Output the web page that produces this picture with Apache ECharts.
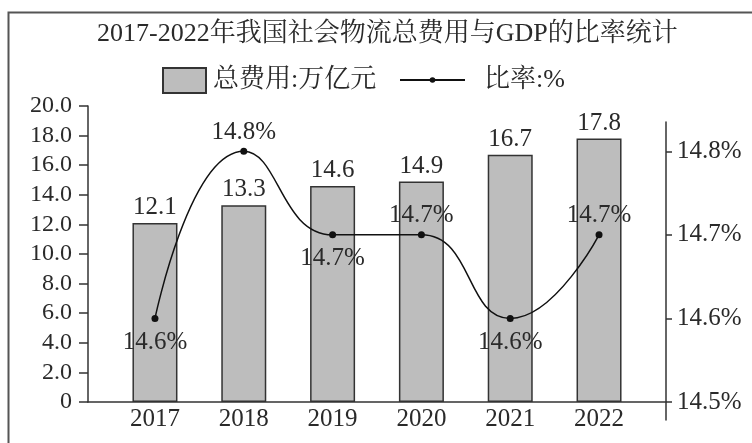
<!DOCTYPE html>
<html><head><meta charset="utf-8">
<script src="https://cdn.jsdelivr.net/npm/echarts@6/dist/echarts.min.js"></script>
<style>html,body{margin:0;padding:0;background:#fff}#c{width:752px;height:443px}</style>
</head><body><div id="c"></div>
<script>
const years = ['2017','2018','2019','2020','2021','2022'];
const totalCost = [12.1, 13.3, 14.6, 14.9, 16.7, 17.8];
const ratio = [14.6, 14.8, 14.7, 14.7, 14.6, 14.7];
const ratioLabelPos = ['bottom','top','bottom','top','bottom','top'];
const leftTicks = [0, 2, 4, 6, 8, 10, 12, 14, 16, 18, 20];
const rightTicks = [14.5, 14.6, 14.7, 14.8];

const FF = "'Liberation Serif','Times New Roman','Noto Serif CJK SC','Noto Sans CJK SC',serif";
const TXT = '#2a2a2a';
const AX = '#333';
const idx = years.map((_, i) => i);

const chart = echarts.init(document.getElementById('c'));
chart.setOption({
  animation: false,
  backgroundColor: '#fff',
  textStyle: { fontFamily: FF, color: TXT },
  title: {
    text: '2017-2022年我国社会物流总费用与GDP的比率统计',
    left: 92, top: 16,
    textStyle: { fontFamily: FF, fontSize: 26, fontWeight: 'normal', color: TXT }
  },
  legend: [
    {
      data: [{ name: '总费用:万亿元', icon: 'rect' }], left: 157, top: 62,
      itemWidth: 43, itemHeight: 25, itemGap: 0,
      textStyle: { fontFamily: FF, fontSize: 26, color: TXT, padding: [0, 0, 0, 2] }
    },
    {
      data: ['比率:%'], left: 394, top: 62,
      itemWidth: 65, itemHeight: 7, itemGap: 0,
      textStyle: { fontFamily: FF, fontSize: 26, color: TXT, padding: [0, 0, 0, 14] }
    }
  ],
  grid: [
    { left: 88, right: 86, top: 106, bottom: 41 },
    { left: 88, right: 86, top: 122, bottom: 23 }
  ],
  xAxis: [
    {
      type: 'value', gridIndex: 0, min: -0.754, max: 5.754,
      axisLine: { show: true, onZero: false, lineStyle: { color: AX, width: 1.5 } },
      axisTick: { show: false },
      splitLine: { show: false },
      axisLabel: {
        customValues: idx, formatter: v => years[Math.round(v)],
        fontFamily: FF, fontSize: 25, color: TXT, margin: 5
      }
    },
    {
      type: 'value', gridIndex: 1, min: -0.754, max: 5.754, show: false,
      axisLine: { onZero: false },
      splitLine: { show: false }
    }
  ],
  yAxis: [
    {
      type: 'value', gridIndex: 0, min: 0, max: 20, interval: 2,
      axisLine: { show: true, onZero: false, lineStyle: { color: AX, width: 1.5 } },
      axisTick: { show: true, length: 9, lineStyle: { color: AX, width: 1.5 } },
      splitLine: { show: false },
      axisLabel: {
        customValues: leftTicks,
        formatter: v => v === 0 ? '0' : v.toFixed(1),
        fontFamily: FF, fontSize: 24, color: TXT, margin: 16
      }
    },
    {
      type: 'value', gridIndex: 1, position: 'right', min: 14.4785, max: 14.835,
      axisLine: { show: true, onZero: false, lineStyle: { color: AX, width: 1.5 } },
      axisTick: { show: true, customValues: rightTicks, length: 6, lineStyle: { color: AX, width: 1.5 } },
      splitLine: { show: false },
      axisLabel: {
        customValues: rightTicks,
        formatter: v => v.toFixed(1) + '%',
        fontFamily: FF, fontSize: 25, color: TXT, margin: 11
      }
    }
  ],
  series: [
    {
      name: '总费用:万亿元', type: 'bar', xAxisIndex: 0, yAxisIndex: 0,
      barWidth: 45,
      data: totalCost.map((v, i) => [i, v]),
      itemStyle: { color: '#bdbdbd', borderColor: '#333', borderWidth: 1.5 },
      label: {
        show: true, position: 'top', distance: 3,
        formatter: p => p.value[1].toFixed(1),
        fontFamily: FF, fontSize: 25, color: TXT
      }
    },
    {
      name: '比率:%', type: 'line', xAxisIndex: 1, yAxisIndex: 1,
      smooth: 0.5,
      symbol: 'circle', symbolSize: 7,
      data: ratio.map((v, i) => ({
        value: [i, v],
        label: { position: ratioLabelPos[i], distance: ratioLabelPos[i] === 'top' ? 3 : 8 }
      })),
      lineStyle: { color: '#111', width: 1.5 },
      itemStyle: { color: '#111' },
      label: {
        show: true,
        formatter: p => p.value[1].toFixed(1) + '%',
        fontFamily: FF, fontSize: 25, color: TXT
      },
      z: 5
    }
  ],
  graphic: [
    {
      type: 'rect', left: 6, top: 10, silent: true,
      shape: { width: 800, height: 500 },
      style: { fill: 'none', stroke: '#555', lineWidth: 2 }
    }
  ]
});
</script>
</body></html>
